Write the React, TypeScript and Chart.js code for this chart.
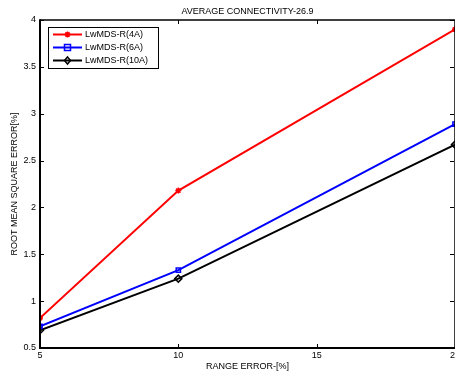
import { useEffect, useRef } from "react";
import { Chart, registerables } from "chart.js";

Chart.register(...registerables);

// Range error (%) at which the localisation runs were made
const rangeError = [5, 10, 20];

// RMSE (%) for each anchor configuration
const rmse4A = [0.82, 2.18, 3.9];
const rmse6A = [0.73, 1.33, 2.89];
const rmse10A = [0.69, 1.24, 2.67];

const seriesLabels = ["LwMDS-R(4A)", "LwMDS-R(6A)", "LwMDS-R(10A)"];
const seriesColors = ["#ff0000", "#0000ff", "#000000"];

const xTicks = [5, 10, 15, 20];
const yTicks = [0.5, 1, 1.5, 2, 2.5, 3, 3.5, 4];

const FONT = "'Liberation Sans', Arial, Helvetica, sans-serif";

type Marker = "star" | "square" | "diamond";
const markers: Marker[] = ["star", "square", "diamond"];

function drawMarker(ctx: CanvasRenderingContext2D, kind: Marker, x: number, y: number, color: string) {
  ctx.save();
  ctx.strokeStyle = color;
  ctx.lineWidth = 1.5;
  ctx.beginPath();
  if (kind === "star") {
    const r = 3;
    ctx.moveTo(x - r, y); ctx.lineTo(x + r, y);
    ctx.moveTo(x, y - r); ctx.lineTo(x, y + r);
    ctx.moveTo(x - r * 0.7, y - r * 0.7); ctx.lineTo(x + r * 0.7, y + r * 0.7);
    ctx.moveTo(x - r * 0.7, y + r * 0.7); ctx.lineTo(x + r * 0.7, y - r * 0.7);
  } else if (kind === "square") {
    ctx.rect(x - 3, y - 3, 6, 6);
  } else {
    ctx.moveTo(x, y - 3.5); ctx.lineTo(x + 3, y); ctx.lineTo(x, y + 3.5); ctx.lineTo(x - 3, y); ctx.closePath();
  }
  ctx.stroke();
  ctx.restore();
}

// Axes box with inward tick marks on all four sides
const boxPlugin = {
  id: "axesBox",
  afterDraw(chart: any) {
    const { ctx, chartArea: a, scales } = chart;
    const L = 4;
    ctx.save();
    ctx.strokeStyle = "#000";
    ctx.lineWidth = 1.5;
    ctx.beginPath();
    ctx.moveTo(a.left, a.top); ctx.lineTo(a.right, a.top); ctx.lineTo(a.right, a.bottom);
    ctx.stroke();
    ctx.lineWidth = 2;
    ctx.beginPath();
    ctx.moveTo(a.left, a.top - 0.75); ctx.lineTo(a.left, a.bottom);
    ctx.lineTo(a.right, a.bottom);
    ctx.stroke();
    ctx.lineWidth = 1;
    ctx.beginPath();
    for (const v of xTicks) {
      const px = Math.round(scales.x.getPixelForValue(v)) + 0.5;
      ctx.moveTo(px, a.bottom); ctx.lineTo(px, a.bottom - L);
      ctx.moveTo(px, a.top); ctx.lineTo(px, a.top + L);
    }
    for (const v of yTicks) {
      const py = Math.round(scales.y.getPixelForValue(v)) + 0.5;
      ctx.moveTo(a.left, py); ctx.lineTo(a.left + L, py);
      ctx.moveTo(a.right - 1, py); ctx.lineTo(a.right - 1 - L, py);
    }
    ctx.stroke();
    ctx.restore();
  },
};

// Boxed legend with line segment and marker per series
const legendPlugin = {
  id: "boxLegend",
  afterDraw(chart: any) {
    const { ctx, chartArea: a } = chart;
    const x0 = a.left + 8;
    const y0 = a.top + 7;
    const w = 110;
    const h = 41;
    ctx.save();
    ctx.fillStyle = "#fff";
    ctx.fillRect(x0, y0, w, h);
    ctx.strokeStyle = "#000";
    ctx.lineWidth = 1;
    ctx.strokeRect(x0 + 0.5, y0 + 0.5, w, h);
    ctx.font = `9px ${FONT}`;
    ctx.textBaseline = "middle";
    chart.data.datasets.forEach((ds: any, i: number) => {
      const y = y0 + 7.5 + i * 13;
      ctx.strokeStyle = ds.borderColor;
      ctx.lineWidth = 2;
      ctx.beginPath();
      ctx.moveTo(x0 + 5, y); ctx.lineTo(x0 + 34, y);
      ctx.stroke();
      drawMarker(ctx, markers[i], x0 + 19.5, y, ds.borderColor);
      ctx.fillStyle = "#000";
      ctx.fillText(ds.label, x0 + 37, y + 0.5);
    });
    ctx.restore();
  },
};

export default function App() {
  const ref = useRef<HTMLCanvasElement | null>(null);

  useEffect(() => {
    document.body.style.margin = "0";
    const canvas = ref.current;
    if (!canvas) return;
    const series = [rmse4A, rmse6A, rmse10A];
    const pointStyles = ["star", "rect", "rectRot"];
    const chart = new Chart(canvas, {
      type: "line",
      data: {
        datasets: series.map((vals, i) => ({
          label: seriesLabels[i],
          data: rangeError.map((x, j) => ({ x, y: vals[j] })),
          borderColor: seriesColors[i],
          backgroundColor: "rgba(0,0,0,0)",
          borderWidth: 2,
          pointStyle: pointStyles[i] as any,
          pointRadius: i === 2 ? 3.5 : 3,
          pointBorderWidth: 1.5,
          pointBackgroundColor: "rgba(0,0,0,0)",
          pointBorderColor: seriesColors[i],
          tension: 0,
        })),
      },
      options: {
        animation: false,
        responsive: false,
        layout: { padding: { right: 25, top: 0, left: 0, bottom: 0 } },
        plugins: {
          legend: { display: false },
          tooltip: { enabled: false },
          title: {
            display: true,
            text: "AVERAGE CONNECTIVITY-26.9",
            color: "#000",
            fullSize: false,
            font: { family: FONT, size: 9, weight: "normal" as any },
            padding: { top: 6, bottom: 3.2 },
          },
        },
        scales: {
          x: {
            type: "linear",
            min: 5,
            max: 20,
            grid: { display: false, drawTicks: false },
            border: { display: false },
            afterBuildTicks: (s: any) => { s.ticks = xTicks.map((v) => ({ value: v })); },
            ticks: {
              color: "#000",
              padding: 2,
              maxRotation: 0,
              font: { family: FONT, size: 9 },
              callback: (v: any) => String(v),
            },
            title: {
              display: true,
              text: "RANGE ERROR-[%]",
              color: "#000",
              font: { family: FONT, size: 9 },
              padding: { top: 1, bottom: 2 },
            },
            afterFit: (s: any) => { s.height = 26; },
          },
          y: {
            type: "linear",
            min: 0.5,
            max: 4,
            grid: { display: false, drawTicks: false },
            border: { display: false },
            afterBuildTicks: (s: any) => { s.ticks = yTicks.map((v) => ({ value: v })); },
            ticks: {
              color: "#000",
              padding: 4,
              font: { family: FONT, size: 9 },
              callback: (v: any) => String(v),
            },
            title: {
              display: true,
              text: "ROOT MEAN SQUARE ERROR[%]",
              color: "#000",
              font: { family: FONT, size: 9 },
              padding: { top: 9, bottom: 2 },
            },
            afterFit: (s: any) => { s.width = 40; },
          },
        },
      },
      plugins: [boxPlugin, legendPlugin],
    });
    return () => chart.destroy();
  }, []);

  return (
    <div style={{ width: 455, height: 374, overflow: "hidden", background: "#fff" }}>
      <canvas ref={ref} width={480} height={374} style={{ display: "block" }} />
    </div>
  );
}
